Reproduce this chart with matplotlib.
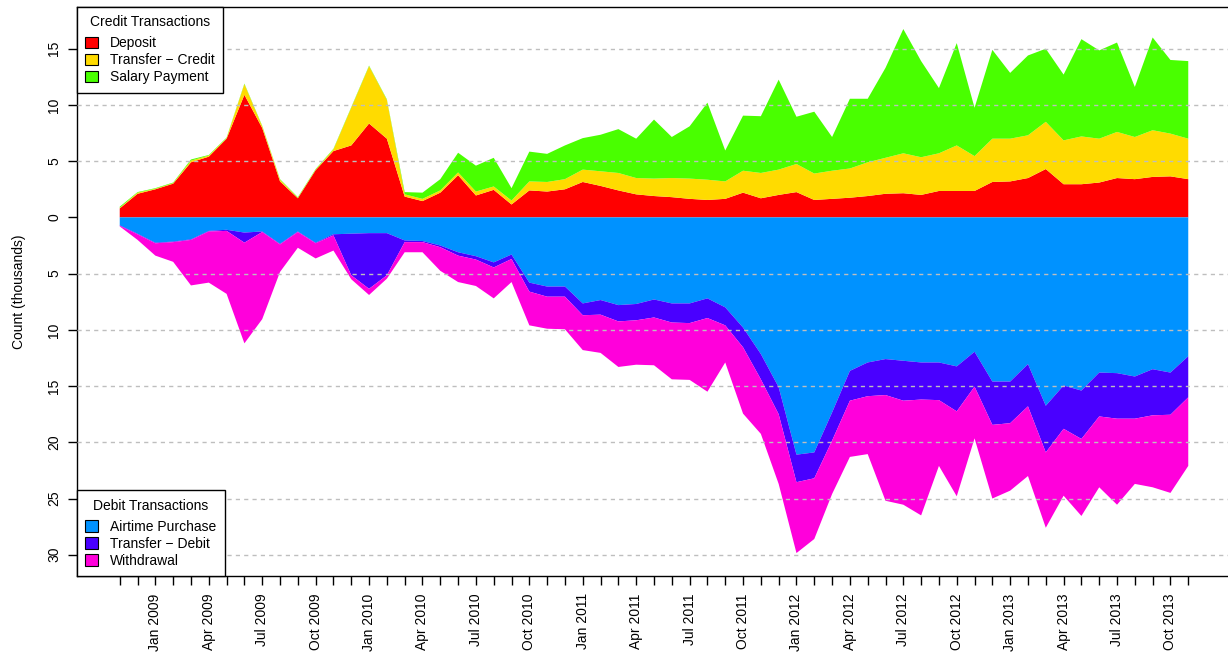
import numpy as np
import pandas as pd
import matplotlib.pyplot as plt
from matplotlib.patches import Patch

plt.rcParams['font.family'] = ['Liberation Sans', 'DejaVu Sans']

# monthly counts in thousands, Nov 2008 .. Nov 2013
months = pd.date_range('2008-11-01', periods=61, freq='MS')
month_labels = [m.strftime('%b %Y') if m.month in (1, 4, 7, 10) else '' for m in months]

# credit side
deposit = [0.80, 2.10, 2.50, 3.00, 4.90, 5.40, 7.00, 10.90, 7.95, 3.20,
           1.70, 4.20, 5.90, 6.40, 8.35, 7.00, 1.85, 1.45, 2.20, 3.75,
           1.95, 2.45, 1.15, 2.40, 2.30, 2.50, 3.15, 2.80, 2.40, 2.05,
           1.90, 1.80, 1.65, 1.55, 1.65, 2.20, 1.70, 2.00, 2.25, 1.55,
           1.65, 1.75, 1.90, 2.10, 2.15, 2.00, 2.35, 2.35, 2.35, 3.15,
           3.20, 3.50, 4.30, 2.95, 2.95, 3.10, 3.50, 3.40, 3.60, 3.65,
           3.40]
transfer_credit = [0.05, 0.10, 0.05, 0.05, 0.15, 0.10, 0.05, 0.95, 0.15, 0.15,
                   0.05, 0.05, 0.15, 3.35, 5.10, 3.45, 0.20, 0.20, 0.20, 0.25,
                   0.35, 0.30, 0.35, 0.80, 0.85, 0.90, 1.10, 1.30, 1.55, 1.45,
                   1.55, 1.70, 1.80, 1.80, 1.55, 1.95, 2.25, 2.25, 2.50, 2.35,
                   2.50, 2.60, 3.00, 3.20, 3.55, 3.35, 3.35, 4.05, 3.10, 3.85,
                   3.80, 3.80, 4.20, 3.90, 4.25, 3.90, 4.10, 3.75, 4.15, 3.80,
                   3.60]
salary = [0.10, 0.05, 0.05, 0.05, 0.10, 0.05, 0.05, 0.05, 0.05, 0.05,
          0.05, 0.05, 0.05, 0.05, 0.05, 0.05, 0.20, 0.55, 1.00, 1.75,
          2.30, 2.55, 1.10, 2.65, 2.50, 3.00, 2.80, 3.25, 3.90, 3.50,
          5.25, 3.65, 4.65, 6.85, 2.75, 4.90, 5.05, 8.00, 4.20, 5.50,
          3.00, 6.20, 5.65, 8.00, 11.05, 8.55, 5.80, 9.10, 4.30, 7.90,
          5.85, 7.10, 6.50, 5.85, 8.65, 7.85, 7.95, 4.45, 8.25, 6.55,
          6.90]

# debit side
airtime = [0.70, 1.45, 2.25, 2.15, 1.95, 1.20, 1.10, 1.35, 1.25, 2.35,
           1.25, 2.25, 1.50, 1.45, 1.40, 1.40, 2.05, 2.10, 2.50, 3.10,
           3.45, 4.00, 3.30, 5.80, 6.15, 6.15, 7.65, 7.35, 7.80, 7.70,
           7.30, 7.65, 7.65, 7.20, 8.00, 9.80, 12.15, 15.10, 21.10, 20.90,
           17.35, 13.65, 12.90, 12.60, 12.75, 12.90, 12.90, 13.25, 11.95, 14.60,
           14.60, 13.05, 16.75, 14.95, 15.40, 13.80, 13.85, 14.15, 13.50, 13.80,
           12.35]
transfer_debit = [0.05, 0.05, 0.05, 0.05, 0.05, 0.05, 0.10, 0.90, 0.05, 0.05,
                  0.05, 0.05, 0.10, 3.70, 4.95, 3.75, 0.15, 0.10, 0.15, 0.30,
                  0.30, 0.45, 0.40, 0.80, 0.90, 0.90, 1.05, 1.30, 1.45, 1.45,
                  1.60, 1.70, 1.75, 1.75, 1.60, 1.75, 2.25, 2.40, 2.45, 2.30,
                  2.50, 2.65, 3.00, 3.20, 3.55, 3.30, 3.35, 4.00, 3.10, 3.85,
                  3.70, 3.75, 4.15, 3.85, 4.30, 3.90, 4.05, 3.75, 4.10, 3.75,
                  3.65]
withdrawal = [0.05, 0.50, 1.10, 1.75, 4.05, 4.55, 5.60, 8.95, 7.75, 2.45,
              1.40, 1.35, 1.35, 0.35, 0.55, 0.30, 0.90, 0.90, 2.10, 2.35,
              2.35, 2.75, 2.05, 3.00, 2.85, 2.90, 3.10, 3.40, 4.05, 3.95,
              4.25, 5.05, 5.05, 6.55, 3.30, 5.90, 4.85, 6.20, 6.30, 5.40,
              4.75, 5.00, 5.15, 9.40, 9.25, 10.30, 5.85, 7.55, 4.60, 6.55,
              6.00, 6.20, 6.70, 5.95, 6.85, 6.30, 7.65, 5.80, 6.40, 6.95,
              6.10]

credit_names = ['Deposit', 'Transfer \u2212 Credit', 'Salary Payment']
credit_cols = ['#FF0000', '#FFDB00', '#49FF00']
debit_names = ['Airtime Purchase', 'Transfer \u2212 Debit', 'Withdrawal']
debit_cols = ['#0092FF', '#4900FF', '#FF00DB']

x = np.arange(len(months))

fig = plt.figure(figsize=(12.28, 6.52), dpi=100)
ax = fig.add_axes([77 / 1228, 1 - 576 / 652, (1231 - 77) / 1228, (576 - 7) / 652])

ax.stackplot(x, deposit, transfer_credit, salary, colors=credit_cols, lw=0, zorder=2)
ax.stackplot(x, -np.array(airtime), -np.array(transfer_debit), -np.array(withdrawal),
             colors=debit_cols, lw=0, zorder=2)

yt = np.arange(-30, 20, 5)
for v in yt:
    if v != 0:
        ax.axhline(v, color='#BEBEBE', ls=(0, (3, 3)), lw=1, zorder=3)

ax.set_xlim(-2.4, 62.4)
ax.set_ylim(-31.89, 18.71)

ax.set_yticks(yt)
ax.set_yticklabels([str(abs(v)) for v in yt], rotation=90, va='center')
ax.set_xticks(x)
ax.set_xticklabels(month_labels, rotation=90)
ax.tick_params(axis='both', direction='out', length=6.5, width=1, labelsize=10, color='black')
ax.tick_params(axis='x', pad=6)
ax.tick_params(axis='y', pad=5)

for s in ax.spines.values():
    s.set_linewidth(1)

ax.set_ylabel('Count (thousands)', fontsize=10)
ax.yaxis.set_label_coords(-51 / 1154, 0.5)

leg_kw = dict(borderaxespad=0, fancybox=False, edgecolor='black', framealpha=1,
              fontsize=10, title_fontsize=10, handlelength=0.9, handleheight=0.9,
              handletextpad=0.9, labelspacing=0.22, borderpad=0.6)
h1 = [Patch(facecolor=c, edgecolor='black', lw=0.8, label=n) for c, n in zip(credit_cols, credit_names)]
leg1 = ax.legend(handles=h1, title='Credit Transactions', loc='upper left', bbox_to_anchor=(0, 1), **leg_kw)
leg1.get_frame().set_linewidth(1)
leg1._legend_box.sep = 5
ax.add_artist(leg1)
h2 = [Patch(facecolor=c, edgecolor='black', lw=0.8, label=n) for c, n in zip(debit_cols, debit_names)]
leg2 = ax.legend(handles=h2, title='Debit Transactions', loc='lower left', bbox_to_anchor=(0, 0), **leg_kw)
leg2.get_frame().set_linewidth(1)
leg2._legend_box.sep = 5

fig.savefig('out.png', dpi=100)
